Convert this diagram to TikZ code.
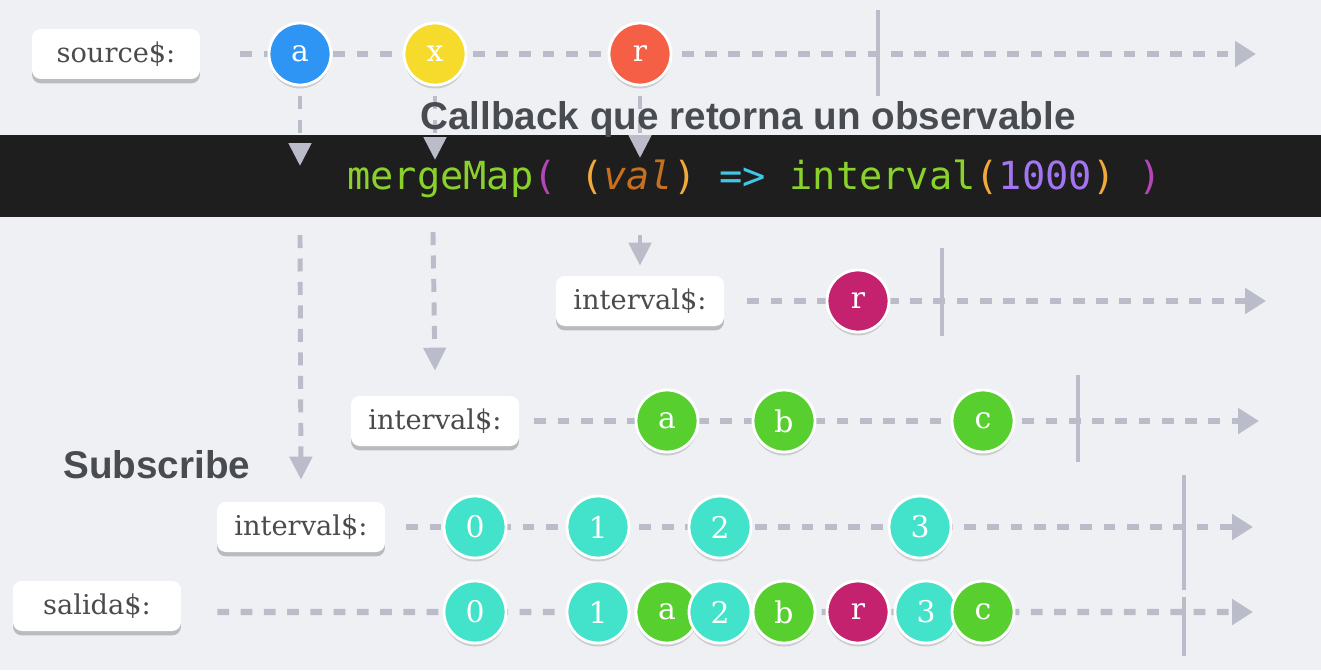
\documentclass[tikz,border=0pt]{standalone}
\usepackage{fontspec}
\setmainfont{DejaVu Serif}
\setsansfont{Liberation Sans}
\setmonofont{DejaVu Sans Mono}
\usetikzlibrary{arrows.meta,shadows}
\definecolor{paper}{HTML}{EFF0F3}
\definecolor{rail}{HTML}{BBBCCA}
\definecolor{ink}{HTML}{4B4B4B}
\definecolor{slate}{HTML}{484B50}
\definecolor{night}{HTML}{1E1E1E}
\definecolor{azure}{HTML}{2E95F5}
\definecolor{lemon}{HTML}{F6DB2C}
\definecolor{coral}{HTML}{F55F45}
\definecolor{berry}{HTML}{C4226F}
\definecolor{grass}{HTML}{57CF2F}
\definecolor{aqua}{HTML}{42E2CB}
\definecolor{lime}{HTML}{8AD22B}
\definecolor{plum}{HTML}{B446B8}
\definecolor{amber}{HTML}{F2A93B}
\definecolor{rust}{HTML}{C7711F}
\definecolor{sky}{HTML}{41C7E6}
\definecolor{violet}{HTML}{A475F2}
\tikzset{
  tag/.style={
    fill=white,
    rounded corners=5pt,
    minimum width=3.36cm,
    minimum height=1cm,
    text=ink,
    font=\fontsize{15.5}{18}\selectfont,
    drop shadow={shadow xshift=0pt, shadow yshift=-2.5pt, opacity=0.22, fill=black}
  },
  marble/.style={
    circle,
    draw=white,
    line width=1.6pt,
    minimum size=1.24cm,
    inner sep=0pt,
    text=white,
    font=\fontsize{17}{20}\selectfont,
    drop shadow={shadow xshift=0pt, shadow yshift=-2pt, opacity=0.15, fill=black}
  },
  timeline/.style={
    draw=rail,
    line width=3.6pt,
    dash pattern=on 0.235cm off 0.23cm,
    -{Triangle[length=0.42cm,width=0.5cm]}
  },
  dropline/.style={
    draw=rail,
    line width=2.8pt,
    dash pattern=on 0.26cm off 0.21cm,
    -{Triangle[length=0.46cm,width=0.44cm]}
  },
  done/.style={
    draw=rail,
    line width=2.4pt
  },
  heading/.style={
    text=slate,
    font=\sffamily\bfseries\fontsize{22}{26}\selectfont,
    inner sep=0pt
  }
}

\begin{document}
\begin{tikzpicture}[x=0.02cm, y=-0.02cm]
  \fill[paper] (0,0) rectangle (1321,670);

  % stream labels
  \node[tag] (src) at (116,54) {source\$:};
  \node[tag] (ivr) at (640,301) {interval\$:};
  \node[tag] (iva) at (435,421) {interval\$:};
  \node[tag] (ivn) at (301,527) {interval\$:};
  \node[tag] (out) at (97,606) {salida\$:};

  \coordinate (srcEnd) at (1256,54);
  \coordinate (ivrEnd) at (1266,301);
  \coordinate (ivaEnd) at (1259,421);
  \coordinate (ivnEnd) at (1253,527);
  \coordinate (outEnd) at (1253,612);

  \draw[timeline] ([xshift=0.8cm]src.east) -- (srcEnd);
  \draw[timeline] ([xshift=0.46cm]ivr.east) -- (ivrEnd);
  \draw[timeline] ([xshift=0.3cm]iva.east) -- (ivaEnd);
  \draw[timeline] ([xshift=0.42cm]ivn.east) -- (ivnEnd);
  \draw[timeline] ([xshift=0.72cm,yshift=-0.12cm]out.east) -- (outEnd);

  % completion
  \draw[done] (878,10) -- (878,96);
  \draw[done] (942,248) -- (942,336);
  \draw[done] (1078,375) -- (1078,462);
  \draw[done] (1184,475) -- (1184,590);
  \draw[done] (1184,597) -- (1184,656);

  % source$
  \node[marble, fill=azure] (a) at (300,54) {a};
  \node[marble, fill=lemon] (x) at (435,54) {x};
  \node[marble, fill=coral] (r) at (640,54) {r};

  % inner streams
  \node[marble, fill=berry] (ir) at (858,301) {r};
  \node[marble, fill=grass] (ia) at (667,421) {a};
  \node[marble, fill=grass] (ib) at (784,421) {b};
  \node[marble, fill=grass] (ic) at (983,421) {c};
  \node[marble, fill=aqua] (n0) at (475,527) {0};
  \node[marble, fill=aqua] (n1) at (598,527) {1};
  \node[marble, fill=aqua] (n2) at (720,527) {2};
  \node[marble, fill=aqua] (n3) at (920,527) {3};

  % salida$
  \node[marble, fill=aqua] (o0) at (475,612) {0};
  \node[marble, fill=aqua] (o1) at (598,612) {1};
  \node[marble, fill=grass] (oa) at (667,612) {a};
  \node[marble, fill=aqua] (o2) at (720,612) {2};
  \node[marble, fill=grass] (ob) at (784,612) {b};
  \node[marble, fill=berry] (or) at (858,612) {r};
  \node[marble, fill=aqua] (o3) at (926,612) {3};
  \node[marble, fill=grass] (oc) at (983,612) {c};

  % operator bar
  \fill[night] (0,135) rectangle (1321,217);
  \node[anchor=base west, inner sep=0pt, font=\ttfamily\fontsize{22}{26}\selectfont] (code) at (347,189)
    {\color{lime}mergeMap\color{plum}( \color{amber}(\color{rust}\itshape val\upshape\color{amber}) \color{sky}=> \color{lime}interval\color{amber}(\color{violet}1000\color{amber}) \color{plum})};

  \coordinate (aDrop) at (300,166);
  \coordinate (xDrop) at (435,160);
  \coordinate (rDrop) at (640,158);
  \coordinate (aOut) at (300,235);
  \coordinate (xOut) at (433,232);
  \coordinate (rOut) at (640,235);

  \draw[dropline] ([yshift=-0.2cm]a.south) -- (aDrop);
  \draw[dropline] ([yshift=-0.2cm]x.south) -- (xDrop);
  \draw[dropline] ([yshift=-0.2cm]r.south) -- (rDrop);
  \draw[dropline] (aOut) -- ([yshift=0.44cm]ivn.north);
  \draw[dropline] (xOut) -- ([yshift=0.5cm]iva.north);
  \draw[dropline] (rOut) -- ([yshift=0.2cm]ivr.north);

  \node[heading, anchor=base] (callback) at (748,129) {Callback que retorna un observable};
  \node[heading, anchor=base west] (subscribe) at (63,478) {Subscribe};
\end{tikzpicture}
\end{document}
